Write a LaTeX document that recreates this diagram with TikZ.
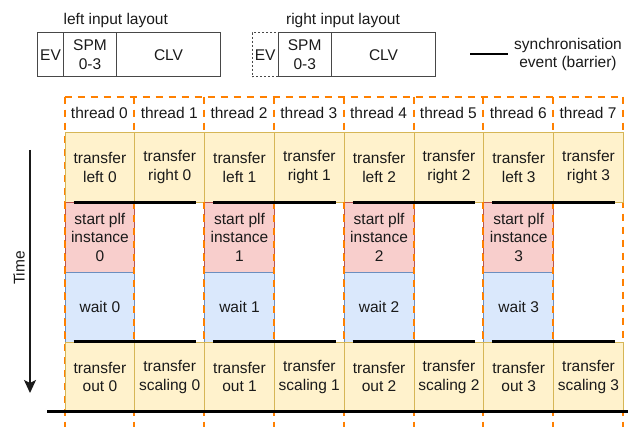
\documentclass[tikz,border=0pt]{standalone}
\usepackage{fontspec}
\setmainfont{Liberation Sans}
\usetikzlibrary{calc,arrows.meta}
\definecolor{ylwfill}{HTML}{FFF2CC}
\definecolor{ylwline}{HTML}{D6B656}
\definecolor{redfill}{HTML}{F8CECC}
\definecolor{redline}{HTML}{B85450}
\definecolor{bluefill}{HTML}{DAE8FC}
\definecolor{blueline}{HTML}{6C8EBF}
\definecolor{thrline}{HTML}{FF8000}
\definecolor{ink}{HTML}{1A1A1A}
\tikzset{
  txt/.style={font=\fontsize{15.5}{18.6}\selectfont, text=ink, align=center, inner sep=0pt},
  cell/.style={txt, draw, line width=1pt, minimum width=69.8pt, minimum height=70pt, anchor=north west},
  ybox/.style={cell, fill=ylwfill, draw=ylwline},
  rbox/.style={cell, fill=redfill, draw=redline},
  bbox/.style={cell, fill=bluefill, draw=blueline},
  lbox/.style={txt, draw=ink!80, line width=1pt, minimum height=44pt, anchor=north west},
  thr/.style={draw=thrline, line width=2pt, dash pattern=on 7pt off 6pt},
  barrier/.style={draw=black, line width=2.6pt},
}
\begin{document}
\begin{tikzpicture}[x=1pt,y=-1pt]
\useasboundingbox (0,0) rectangle (628,427);

% input layouts
\node[txt] (ltitle) at (115.8,20) {left input layout};
\node[lbox, minimum width=26.6pt] (lev) at (36.7,32.3) {EV};
\node[lbox, minimum width=52.4pt] (lspm) at (63.3,32.3) {SPM\\0-3};
\node[lbox, minimum width=104.6pt] (lclv) at (115.7,32.3) {CLV};

\node[txt] (rtitle) at (343,20) {right input layout};
\node[lbox, minimum width=26pt, draw=ink!80, line width=0.8pt, dash pattern=on 2pt off 2pt] (rev) at (251.7,32.3) {EV};
\node[lbox, minimum width=53pt] (rspm) at (277.7,32.3) {SPM\\0-3};
\node[lbox, minimum width=104.6pt] (rclv) at (330.7,32.3) {CLV};

% legend
\coordinate (legA) at (470,54);
\coordinate (legB) at (508.3,54);
\draw[barrier] (legA) -- (legB);
\node[txt] (legtxt) at (568,54.5) {synchronisation\\event (barrier)};

% thread lanes
\draw[thr] (64.5,96.7) -- (623,96.7);
\foreach \i in {0,...,8} {
  \draw[thr] ({64.5+69.8*\i},96.7) -- ({64.5+69.8*\i},427);
}
\foreach \i in {0,...,7} {
  \node[txt] (th\i) at ({64.5+69.8*\i+34.9},113) {thread \i};
}

% work items per thread pair
\foreach \k in {0,...,3} {
  \pgfmathsetmacro\xa{64.5+139.6*\k}
  \pgfmathsetmacro\xb{\xa+69.8}
  \node[ybox] (tl\k) at (\xa,131.8) {transfer\\left \k};
  \node[ybox] (tr\k) at (\xb,131.8) {transfer\\right \k};
  \node[rbox] (sp\k) at (\xa,201.8) {start plf\\instance\\\k};
  \node[bbox] (wt\k) at (\xa,271.8) {wait \k};
  \node[ybox] (to\k) at (\xa,341.5) {transfer\\out \k};
  \node[ybox] (ts\k) at (\xb,341.5) {transfer\\scaling \k};
  % lane borders over the coloured work items
  \draw[thr] (\xa,201.8) -- (\xa,341.5);
  \draw[thr] (\xb,201.8) -- (\xb,341.5);
}

% barriers
\foreach \k in {0,...,3} {
  \draw[barrier] ($(tl\k.south west)+(9,0)$) -- ($(tr\k.south east)+(-9,0)$);
  \draw[barrier] ($(to\k.north west)+(9,0)$) -- ($(ts\k.north east)+(-9,0)$);
}
\coordinate (baseL) at (47,411.5);
\coordinate (baseR) at (628,411.5);
\draw[barrier] (baseL) -- (baseR);

% time axis
\coordinate (tA) at (30,150);
\coordinate (tB) at (30,393);
\draw[ink, line width=1.6pt, -{Stealth[length=13pt,width=12pt,inset=3pt]}] (tA) -- (tB);
\node[txt, rotate=90] (tlabel) at (19,268) {Time};
\end{tikzpicture}
\end{document}
